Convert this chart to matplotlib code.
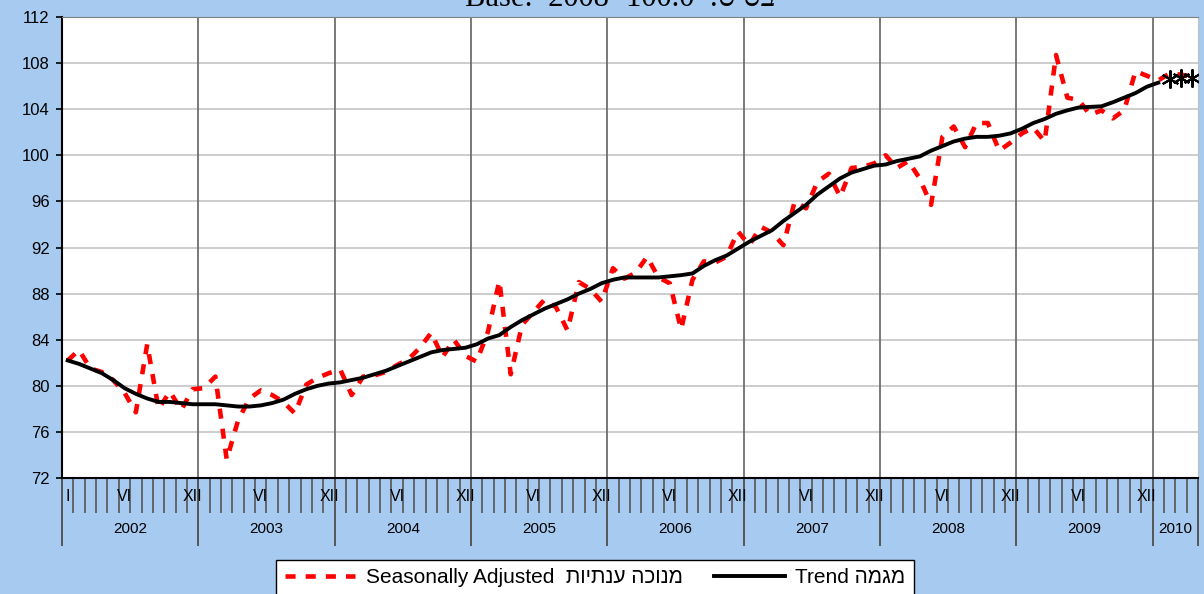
import numpy as np
import matplotlib.pyplot as plt
from matplotlib import transforms

plt.rcParams['font.family'] = ['Liberation Sans', 'DejaVu Sans']

# monthly index, Jan 2002 .. Apr 2010
years = ['2002', '2003', '2004', '2005', '2006', '2007', '2008', '2009', '2010']
year_months = [12, 12, 12, 12, 12, 12, 12, 12, 4]

seasonally_adjusted = [
    82.2, 83.1, 81.5, 81.2, 80.5, 79.4, 77.7, 83.6, 78.0, 79.5, 77.9, 79.7,
    79.8, 80.8, 73.6, 77.0, 78.9, 79.6, 79.2, 78.6, 77.6, 80.1, 80.7, 81.1,
    81.4, 79.2, 80.8, 80.9, 81.2, 81.8, 82.3, 83.3, 84.6, 82.5, 84.0, 82.6,
    82.1, 84.7, 89.1, 81.0, 85.3, 86.4, 87.5, 86.8, 84.8, 89.0, 88.4, 87.3,
    90.2, 89.3, 89.8, 91.2, 89.4, 88.9, 84.9, 89.2, 90.8, 90.7, 91.2, 93.4,
    92.2, 93.8, 93.3, 92.2, 96.0, 95.4, 97.7, 98.4, 96.4, 98.9, 99.0, 99.3,
    100.0, 98.9, 99.5, 98.0, 95.7, 101.6, 102.5, 100.7, 102.8, 102.8, 100.4, 101.1,
    101.9, 102.4, 101.2, 108.7, 105.0, 104.8, 103.5, 103.9, 103.2, 103.9, 107.3, 106.9,
    106.5, 107.1, 107.0, 106.8,
]

trend = [
    82.2, 81.9, 81.5, 81.1, 80.5, 79.8, 79.3, 78.9, 78.6, 78.6, 78.5, 78.4,
    78.4, 78.4, 78.3, 78.2, 78.2, 78.3, 78.5, 78.8, 79.3, 79.7, 80.0, 80.2,
    80.3, 80.5, 80.7, 81.0, 81.3, 81.7, 82.1, 82.5, 82.9, 83.1, 83.2, 83.3,
    83.6, 84.1, 84.4, 85.1, 85.7, 86.2, 86.7, 87.1, 87.5, 88.0, 88.4, 88.9,
    89.2, 89.4, 89.4, 89.4, 89.4, 89.5, 89.6, 89.75, 90.4, 90.9, 91.3, 91.9,
    92.5, 93.0, 93.5, 94.3, 95.0, 95.7, 96.6, 97.3, 98.0, 98.5, 98.8, 99.1,
    99.2, 99.5, 99.7, 99.9, 100.4, 100.8, 101.2, 101.45, 101.6, 101.6, 101.7, 101.9,
    102.3, 102.8, 103.15, 103.6, 103.9, 104.15, 104.2, 104.25, 104.6, 105.0, 105.4, 105.95,
    106.3,
]

# provisional trend points (asterisks)
star_months = [97, 98, 99]
star_values = [106.6, 106.7, 106.7]

month_labels = [(0, 'I')] + [(12 * k + 5, 'VI') for k in range(8)] + \
               [(12 * k + 11, 'XII') for k in range(8)]


def rtl(s):
    # matplotlib has no bidi support, so hebrew is reversed by hand
    return s[::-1]


label_sa = 'Seasonally Adjusted  ' + rtl('מנוכה ענתיות')
label_trend = 'Trend ' + rtl('מגמה')
title = 'Base:  2008=100.0  :' + rtl('בסיס')

bg = '#a6caf0'
fig = plt.figure(figsize=(12.04, 5.94), dpi=100, facecolor=bg)
ax = fig.add_axes([62 / 1204, 116 / 594, 1136 / 1204, 461 / 594])
ax.set_facecolor('white')

x_sa = np.arange(len(seasonally_adjusted)) + 0.5
x_tr = np.arange(len(trend)) + 0.5
x_st = np.array(star_months) + 0.5

ax.plot(x_sa, seasonally_adjusted, color='#ff0000', lw=3.3,
        linestyle=(0, (2.2, 2.2)), zorder=3, label=label_sa)
ax.plot(x_tr, trend, color='black', lw=2.8, zorder=4, label=label_trend)
ax.plot(x_st, star_values, linestyle='none', marker=(6, 2, 0), ms=13,
        mew=1.5, color='black', zorder=5)

ax.set_ylim(72, 112)
ax.set_yticks(np.arange(72, 113, 4))
ax.yaxis.grid(True, color='#c8c8c8', lw=1.3)
ax.set_axisbelow(True)
ax.tick_params(axis='y', direction='out', length=4, width=1.2, labelsize=12,
               pad=5, color='black')

total = sum(year_months)
ax.set_xlim(0, total)
bounds = np.concatenate([[0], np.cumsum(year_months)])
for b in bounds[1:-1]:
    ax.axvline(b, color='#6e6e6e', lw=1.3, zorder=2)

minor = [m for m in range(1, total) if m not in bounds]
ax.set_xticks(bounds)
ax.set_xticks(minor, minor=True)
ax.tick_params(axis='x', which='major', direction='out', length=49, width=1.4,
               color='#555555', labelbottom=False)
ax.tick_params(axis='x', which='minor', direction='out', length=25, width=1.2,
               color='#555555', labelbottom=False)

trans = transforms.blended_transform_factory(ax.transData, ax.transAxes)
for m, lab in month_labels:
    ax.text(m + 0.5, -0.041, lab, transform=trans, ha='center', va='center',
            fontsize=11.5)
for i, yr in enumerate(years):
    ax.text((bounds[i] + bounds[i + 1]) / 2, -0.111, yr, transform=trans,
            ha='center', va='center', fontsize=11)

for side in ['left', 'bottom']:
    ax.spines[side].set_color('black')
    ax.spines[side].set_linewidth(1.5)
ax.spines['top'].set_color('#808080')
ax.spines['right'].set_color('#c0c0c0')

fig.text(0.515, (594 - 6) / 594, title, ha='center', va='baseline',
         fontsize=22, family=['Liberation Serif', 'DejaVu Serif'])

leg = fig.legend(loc='upper center', bbox_to_anchor=(595 / 1204, 34 / 594),
                 ncol=2, fontsize=15, frameon=True, fancybox=False,
                 edgecolor='black', framealpha=1, handlelength=3.4,
                 handletextpad=0.5, columnspacing=1.5, borderaxespad=0,
                 borderpad=0.4)
leg.get_frame().set_linewidth(1.0)

fig.savefig('out.png', dpi=100, facecolor=bg)
